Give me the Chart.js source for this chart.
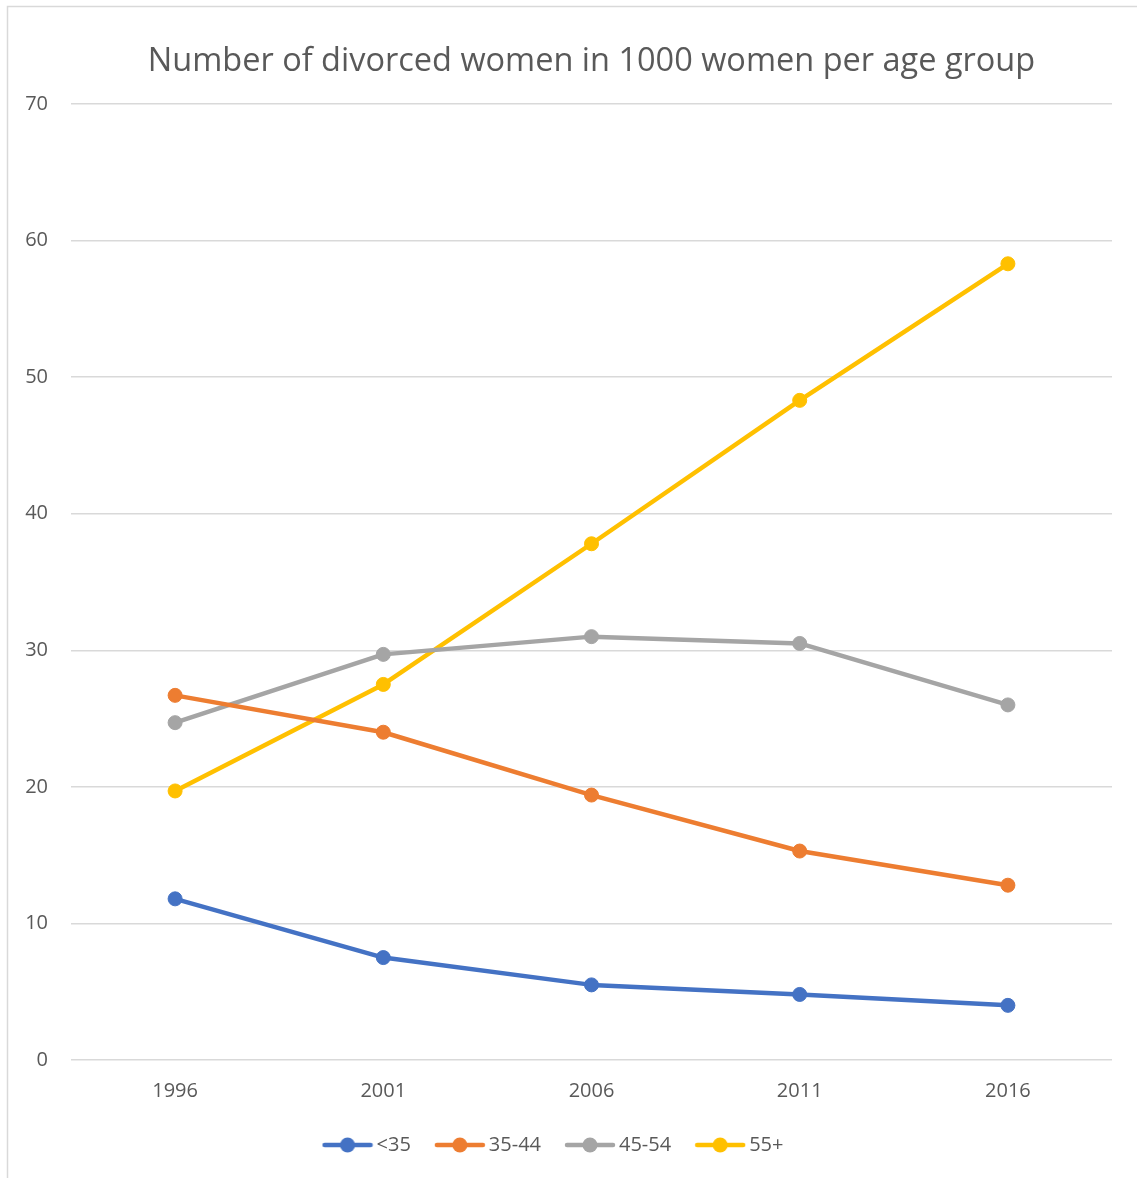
<!DOCTYPE html>
<html>
<head>
<meta charset="utf-8">
<script src="https://cdn.jsdelivr.net/npm/chart.js@4.4.1/dist/chart.umd.min.js"></script>
<style>
  html, body { margin: 0; padding: 0; background: #ffffff; }
  #wrap { width: 1137px; height: 1178px; }
</style>
</head>
<body>
<div id="wrap"><canvas id="chart" width="1137" height="1178"></canvas></div>
<script>
// Survey years
const years = ['1996', '2001', '2006', '2011', '2016'];

// Divorced women per 1000 women, by age group
const under35 = [11.8, 7.5, 5.5, 4.8, 4.0];
const age35to44 = [26.7, 24.0, 19.4, 15.3, 12.8];
const age45to54 = [24.7, 29.7, 31.0, 30.5, 26.0];
const age55plus = [19.7, 27.5, 37.8, 48.3, 58.3];

const seriesNames = ['<35', '35-44', '45-54', '55+'];
const seriesColors = ['#4472C4', '#ED7D31', '#A5A5A5', '#FFC000'];

// Y axis range
const yMin = 0;
const yMax = 70;
const yStep = 10;

const FONT = "'Open Sans', 'Noto Sans', sans-serif";
const TEXT = '#595959';
const GRID = '#d9d9d9';

// Legend swatch: a short line with a dot in the middle
function makeSwatch(color) {
  const c = document.createElement('canvas');
  c.width = 52; c.height = 18;
  const g = c.getContext('2d');
  g.strokeStyle = color;
  g.lineWidth = 4.5;
  g.lineCap = 'round';
  g.beginPath();
  g.moveTo(3, 9); g.lineTo(49, 9);
  g.stroke();
  g.fillStyle = color;
  g.beginPath();
  g.arc(26, 9, 7.5, 0, Math.PI * 2);
  g.fill();
  return c;
}
const swatches = seriesColors.map(makeSwatch);

// Light frame around the chart
const framePlugin = {
  id: 'frame',
  beforeDraw(chart) {
    const ctx = chart.ctx;
    ctx.save();
    ctx.fillStyle = '#ffffff';
    ctx.fillRect(0, 0, chart.width, chart.height);
    ctx.strokeStyle = GRID;
    ctx.lineWidth = 1.5;
    ctx.strokeRect(7.5, 6.5, chart.width + 50, chart.height + 50);
    ctx.restore();
  }
};

const seriesValues = [under35, age35to44, age45to54, age55plus];

new Chart(document.getElementById('chart'), {
  type: 'line',
  data: {
    labels: years,
    datasets: seriesValues.map((vals, i) => ({
      label: seriesNames[i],
      data: vals,
      borderColor: seriesColors[i],
      backgroundColor: seriesColors[i],
      pointBackgroundColor: seriesColors[i],
      pointBorderColor: seriesColors[i],
      borderWidth: 4.5,
      pointRadius: 7,
      pointBorderWidth: 1,
      pointHoverRadius: 7,
      borderCapStyle: 'round',
      borderJoinStyle: 'round',
      tension: 0,
      fill: false
    }))
  },
  options: {
    responsive: false,
    animation: false,
    devicePixelRatio: 1,
    layout: { padding: { left: 0, right: 25, top: 0, bottom: 13 } },
    plugins: {
      title: {
        display: true,
        text: 'Number of divorced women in 1000 women per age group',
        color: TEXT,
        fullSize: false,
        font: { family: FONT, size: 32.5, weight: 'normal', lineHeight: 1.2 },
        padding: { top: 42.5, bottom: 22.5 }
      },
      legend: {
        position: 'bottom',
        labels: {
          color: TEXT,
          font: { family: FONT, size: 20 },
          usePointStyle: true,
          pointStyleWidth: 38,
          boxHeight: 18,
          padding: 30,
          generateLabels(chart) {
            const items = Chart.defaults.plugins.legend.labels.generateLabels(chart);
            items.forEach((it, i) => { it.pointStyle = swatches[i]; it.rotation = 0; });
            return items;
          }
        }
      },
      tooltip: { enabled: false }
    },
    scales: {
      x: {
        offset: true,
        grid: { display: false, drawTicks: false },
        border: { display: false },
        ticks: { color: TEXT, font: { family: FONT, size: 20 }, padding: 19 },
        afterFit(scale) { scale.height = 45; }
      },
      y: {
        min: yMin,
        max: yMax,
        grid: { color: GRID, lineWidth: 1.5, drawTicks: false },
        border: { display: false },
        ticks: { stepSize: yStep, color: TEXT, font: { family: FONT, size: 20 }, padding: 23 },
        afterFit(scale) { scale.width = 71; }
      }
    }
  },
  plugins: [framePlugin]
});
</script>
</body>
</html>
